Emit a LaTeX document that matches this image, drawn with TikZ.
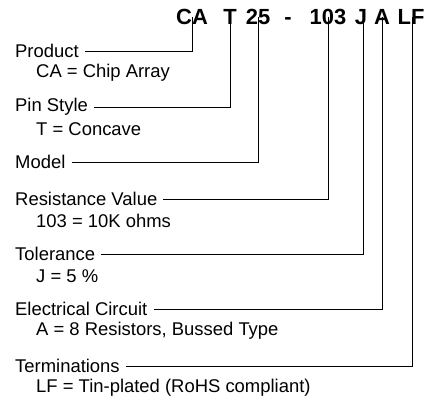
\documentclass[tikz,border=0pt]{standalone}
\usepackage{fontspec}
\setmainfont{Liberation Sans}
\usetikzlibrary{positioning}
\tikzset{
  code/.style={anchor=base, inner sep=0pt, font=\fontsize{22}{26}\selectfont\bfseries},
  field/.style={anchor=west, inner sep=0pt, font=\fontsize{18.5}{22}\selectfont},
  lead/.style={draw, line width=0.9pt}
}

\begin{document}
\begin{tikzpicture}[x=1bp,y=-1bp]
    \useasboundingbox (0,0) rectangle (441,403);
    % part number
    \node[code] (ca) at (192,24) {CA};
    \node[code] (t) at (230,24) {T};
    \node[code] (m) at (258,24) {25};
    \node[code] (dash) at (288,24) {-};
    \node[code] (r) at (328,24) {103};
    \node[code] (j) at (361,24) {J};
    \node[code] (a) at (382,24) {A};
    \node[code] (lf) at (411,24) {LF};
    % fields
    \node[field] (product) at (15,51) {Product};
    \node[field] (pin) at (15,107) {Pin Style};
    \node[field] (model) at (15,162) {Model};
    \node[field] (res) at (15,199) {Resistance Value};
    \node[field] (tol) at (15,254) {Tolerance};
    \node[field] (circ) at (15,309) {Electrical Circuit};
    \node[field] (term) at (15,366) {Terminations};
    % values
    \node[field] (productv) at (36,73) {CA = Chip Array};
    \node[field] (pinv) at (36,129) {T = Concave};
    \node[field] (resv) at (36,221) {103 = 10K ohms};
    \node[field] (tolv) at (36,276) {J = 5 \%};
    \node[field] (circv) at (36,331) {A = 8 Resistors, Bussed Type};
    \node[field] (termv) at (36,388) {LF = Tin-plated (RoHS compliant)};
    % leads
    \draw[lead] ([xshift=6bp]product.east) -| ([yshift=7bp]ca.south);
    \draw[lead] ([xshift=6bp]pin.east) -| ([yshift=7bp]t.south);
    \draw[lead] ([xshift=6bp]model.east) -| ([yshift=7bp]m.south);
    \draw[lead] ([xshift=6bp]res.east) -| ([yshift=7bp]r.south);
    \draw[lead] ([xshift=6bp]tol.east) -| ([xshift=2bp,yshift=7bp]j.south);
    \draw[lead] ([xshift=6bp]circ.east) -| ([yshift=7bp]a.south);
    \draw[lead] ([xshift=6bp]term.east) -| ([xshift=1bp,yshift=7bp]lf.south);
\end{tikzpicture}
\end{document}
